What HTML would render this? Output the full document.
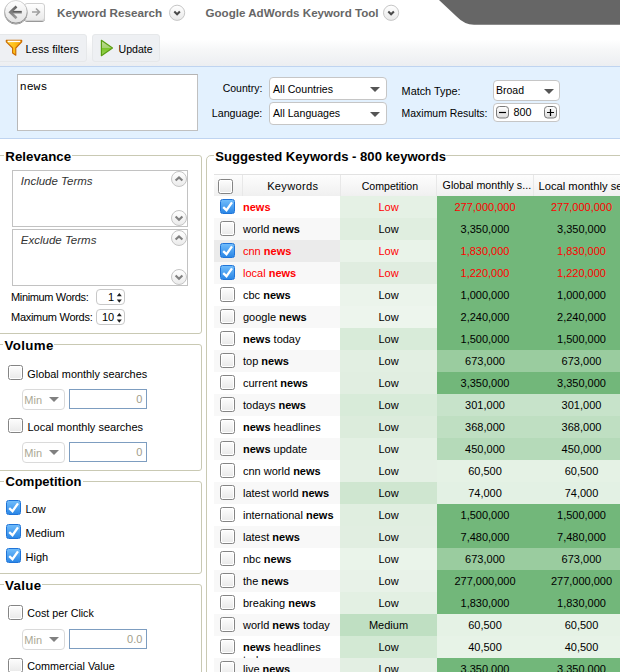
<!DOCTYPE html>
<html><head><meta charset="utf-8">
<style>
*{box-sizing:border-box;margin:0;padding:0}
html,body{width:620px;height:672px;overflow:hidden;background:#fff;font-family:"Liberation Sans",sans-serif;font-size:11px;color:#000;position:relative}
.a{position:absolute}
.tri{position:absolute;width:0;height:0;border-left:5px solid transparent;border-right:5px solid transparent;border-top:5px solid #555}
.fs{position:absolute;border:1px solid #c9c9b3;border-radius:3px}
.lgb{position:absolute;background:#fff;height:14px}
.chk{position:absolute;width:15px;height:15px;border:1px solid #848484;border-radius:2.5px;background:linear-gradient(#fdfdfd,#e9e9e9);box-shadow:inset 0 0 0 1px #fff}
.chk.on{border:1px solid #1f74d8;background:linear-gradient(#70bcfb,#2b87e6);box-shadow:none}
.chk svg{position:absolute;left:-1px;top:-1px}
.r{position:absolute;left:214px;width:420px;height:22px;white-space:nowrap}
.r>span{position:absolute;top:0;height:22px;line-height:22px}
.r .chk{left:6px;top:3px;height:15px;line-height:15px}
.kw{left:29px}
.c2{left:126px;width:97px;text-align:center}
.c3{left:223px;width:96px;text-align:center}
.c4{left:319px;width:97px;text-align:center}
.circ{position:absolute;width:16px;height:16px;border-radius:50%;border:1px solid #c4c4c4;background:linear-gradient(#fff,#ebebeb)}
.spin{position:absolute;left:96px;width:29px;height:17px;border:1px solid #c8c8c8;border-radius:4px;background:#fff}
.minsel{position:absolute;left:22px;width:43px;height:20px;border:1px solid #dadada;border-radius:4px;background:#fff}
.inp{position:absolute;left:69px;width:78px;height:19px;border:1px solid #7f9db9;background:#fff}
.sel{position:absolute;border:1px solid #c6c6c6;border-radius:4px;background:#fff}
</style></head><body>

<svg class="a" style="left:0;top:0" width="620" height="66">
  <defs>
   <linearGradient id="g1" x1="0" y1="0" x2="0" y2="1"><stop offset="0" stop-color="#ffffff"/><stop offset="1" stop-color="#e2e2e2"/></linearGradient>
   <linearGradient id="gs" x1="0" y1="0" x2="0" y2="1"><stop offset="0" stop-color="#d6d6d6"/><stop offset="1" stop-color="#8a8a8a"/></linearGradient>
   <linearGradient id="g2" x1="0" y1="0" x2="0" y2="1"><stop offset="0" stop-color="#ffffff"/><stop offset="1" stop-color="#e9e9e9"/></linearGradient>
   <linearGradient id="ga" x1="0" y1="0" x2="0" y2="1"><stop offset="0" stop-color="#4a4a4a"/><stop offset="1" stop-color="#9a9a9a"/></linearGradient>
   <linearGradient id="gf" x1="0" y1="0" x2="1" y2="0"><stop offset="0" stop-color="#ffd23a"/><stop offset="0.5" stop-color="#ffc21a"/><stop offset="1" stop-color="#f59a00"/></linearGradient>
   <linearGradient id="gp" x1="0" y1="0" x2="0" y2="1"><stop offset="0" stop-color="#c4df9a"/><stop offset="0.5" stop-color="#a6d070"/><stop offset="0.52" stop-color="#7cc42a"/><stop offset="1" stop-color="#9ad45a"/></linearGradient>
   <filter id="sh" x="-20%" y="-20%" width="140%" height="150%"><feGaussianBlur in="SourceAlpha" stdDeviation="0.7"/><feOffset dy="1"/><feComponentTransfer><feFuncA type="linear" slope="0.4"/></feComponentTransfer><feMerge><feMergeNode/><feMergeNode in="SourceGraphic"/></feMerge></filter>
  </defs>
  <path d="M439 0 L456 16 Q464.5 24.8 474 24.8 L620 24.8 L620 0 Z" fill="#666"/>
  <rect x="24.5" y="3.5" width="20" height="17" rx="2.5" fill="url(#g2)" stroke="#d0d0d0" filter="url(#sh)"/>
  <path d="M32 12 H39.5 M36 8.5 L39.5 12 L36 15.5" stroke="#a0a0a0" stroke-width="1.6" fill="none"/>
  <circle cx="15.9" cy="11.8" r="11.3" fill="url(#g1)" stroke="url(#gs)" filter="url(#sh)"/>
  <rect x="11.5" y="10.9" width="10.3" height="2.7" fill="url(#ga)"/>
  <linearGradient id="gar" gradientUnits="userSpaceOnUse" x1="0" y1="6" x2="0" y2="19"><stop offset="0" stop-color="#606060"/><stop offset="1" stop-color="#a0a0a0"/></linearGradient><path d="M16.5 6.5 L10.3 12.3 L16.5 18.2" stroke="url(#gar)" stroke-width="2.6" fill="none"/>
  <circle cx="177.1" cy="12.8" r="7.6" fill="url(#g2)" stroke="#c6c6c6"/>
  <path d="M174.3 11.5 L177.1 14.3 L179.9 11.5" stroke="#4a4a4a" stroke-width="2" fill="none"/>
  <circle cx="391.1" cy="12.8" r="7.6" fill="url(#g2)" stroke="#c6c6c6"/>
  <path d="M388.3 11.5 L391.1 14.3 L393.9 11.5" stroke="#4a4a4a" stroke-width="2" fill="none"/>
</svg>
<div style="position:absolute;top:5.25px;font-size:11.7px;line-height:15px;white-space:nowrap;font-weight:bold;color:#666;left:57px;">Keyword Research</div>
<div style="position:absolute;top:5.78px;font-size:11.6px;line-height:14px;white-space:nowrap;font-weight:bold;color:#666;left:205.5px;">Google AdWords Keyword Tool</div>
<div class="a" style="left:0;top:25px;width:620px;height:41px;background:linear-gradient(#fff 0%,#fff 35%,#f6f7f8 60%,#eceef1 100%)"></div>
<div class="a" style="left:-3px;top:34px;width:89.7px;height:27.5px;border:1px solid #e6e8ea;border-radius:3px;background:#eef0f3"></div>
<div class="a" style="left:92px;top:34px;width:68px;height:27.5px;border:1px solid #e6e8ea;border-radius:3px;background:#eef0f3"></div>
<svg class="a" style="left:0;top:34px" width="30" height="28"><path d="M6.3 6.3 H21.7 V7.8 L15.8 14 V21.3 L12.6 19 V14 L6.3 7.8 Z" fill="url(#gf)" stroke="#c86a00" stroke-width="1.1" stroke-linejoin="round"/><path d="M7.8 7.4 H20.2" stroke="#fff" stroke-width="1.4"/></svg>
<svg class="a" style="left:90px;top:34px" width="30" height="28"><path d="M11.4 6.3 L22.5 14 L11.4 21.7 Z" fill="url(#gp)" stroke="#5a9e12" stroke-width="1.2" stroke-linejoin="round"/></svg>
<div style="position:absolute;top:41.92px;font-size:11.2px;line-height:14px;white-space:nowrap;left:25.5px;">Less filters</div>
<div style="position:absolute;top:42.63px;font-size:10.6px;line-height:13px;white-space:nowrap;left:118.5px;">Update</div>
<div class="a" style="left:-5px;top:66px;width:630px;height:73px;background:#e3f1fe;border:1px solid #bfd4f0;border-radius:0 0 0 5px"></div>
<div class="a" style="left:17px;top:74px;width:181px;height:57px;background:#fff;border:1px solid #c0c0c0;border-top-color:#b4b4b4;border-left-color:#b8b8b8"></div>
<div style="position:absolute;top:79.62px;font-size:11.5px;line-height:14px;white-space:nowrap;font-family:'Liberation Mono',monospace;left:19.8px;">news</div>
<div style="position:absolute;top:82.46px;font-size:10.5px;line-height:13px;white-space:nowrap;right:357.7px;text-align:right;">Country:</div>
<div style="position:absolute;top:107.19px;font-size:10.7px;line-height:13px;white-space:nowrap;right:357.7px;text-align:right;">Language:</div>
<div class="sel" style="left:269px;top:77px;width:118px;height:23px"><span class="tri" style="left:100px;top:9px"></span></div>
<div class="sel" style="left:269px;top:102px;width:118px;height:23px"><span class="tri" style="left:100px;top:9px"></span></div>
<div style="position:absolute;top:82.73px;font-size:10.6px;line-height:13px;white-space:nowrap;left:273px;">All Countries</div>
<div style="position:absolute;top:107.43px;font-size:10.6px;line-height:13px;white-space:nowrap;left:273px;">All Languages</div>
<div style="position:absolute;top:84.14px;font-size:10.85px;line-height:14px;white-space:nowrap;left:401.6px;">Match Type:</div>
<div style="position:absolute;top:106.58px;font-size:10.45px;line-height:13px;white-space:nowrap;left:401.6px;">Maximum Results:</div>
<div class="sel" style="left:493px;top:80px;width:67px;height:21px"><span class="tri" style="left:50px;top:8px"></span></div>
<div style="position:absolute;top:84.46px;font-size:10.5px;line-height:13px;white-space:nowrap;left:496px;">Broad</div>
<div class="sel" style="left:493px;top:102.5px;width:67px;height:19px"></div>
<svg class="a" style="left:490px;top:100px" width="75" height="25">
<defs><linearGradient id="gb" x1="0" y1="0" x2="0" y2="1"><stop offset="0" stop-color="#fff"/><stop offset="1" stop-color="#dcdcdc"/></linearGradient></defs>
<rect x="6.5" y="6.5" width="12" height="11.5" rx="3" fill="url(#gb)" stroke="#7a7a7a"/><path d="M9 12.5 H16" stroke="#000" stroke-width="1.2"/>
<rect x="54.5" y="6.5" width="12" height="11.5" rx="3" fill="url(#gb)" stroke="#7a7a7a"/><path d="M57 12.5 H64 M60.5 9 V16" stroke="#000" stroke-width="1.2"/>
</svg>
<div style="position:absolute;top:104.56px;font-size:10.8px;line-height:14px;white-space:nowrap;left:513.6px;">800</div>
<div class="fs" style="left:-5px;top:155px;width:207px;height:179px"></div>
<div class="lgb" style="left:3.8px;top:149px;width:68.5px"></div><div style="position:absolute;top:147.89px;font-size:13.3px;line-height:17px;white-space:nowrap;font-weight:bold;left:5.3px;">Relevance</div>
<div class="a" style="left:12px;top:170px;width:176px;height:57px;border:1px solid #c2c2c2;background:#fff"></div>
<div style="position:absolute;top:173.72px;font-size:11.5px;line-height:14px;white-space:nowrap;font-style:italic;color:#333;left:20.8px;">Include Terms</div>
<div class="circ" style="left:171px;top:171px"><svg width="16" height="16" style="position:absolute;left:-1px;top:-1px"><path d="M4.6 9.6 L8 6.4 L11.4 9.6" stroke="#808080" stroke-width="2.1" fill="none"/></svg></div>
<div class="circ" style="left:171px;top:210px"><svg width="16" height="16" style="position:absolute;left:-1px;top:-1px"><path d="M4.6 6.6 L8 9.8 L11.4 6.6" stroke="#808080" stroke-width="2.1" fill="none"/></svg></div>
<div class="a" style="left:12px;top:229px;width:176px;height:57px;border:1px solid #c2c2c2;background:#fff"></div>
<div style="position:absolute;top:232.72px;font-size:11.5px;line-height:14px;white-space:nowrap;font-style:italic;color:#333;left:20.8px;">Exclude Terms</div>
<div class="circ" style="left:171px;top:230px"><svg width="16" height="16" style="position:absolute;left:-1px;top:-1px"><path d="M4.6 9.6 L8 6.4 L11.4 9.6" stroke="#808080" stroke-width="2.1" fill="none"/></svg></div>
<div class="circ" style="left:171px;top:269px"><svg width="16" height="16" style="position:absolute;left:-1px;top:-1px"><path d="M4.6 6.6 L8 9.8 L11.4 6.6" stroke="#808080" stroke-width="2.1" fill="none"/></svg></div>
<div style="position:absolute;top:289.99px;font-size:11px;line-height:14px;white-space:nowrap;letter-spacing:-0.35px;left:11px;">Minimum Words:</div>
<div style="position:absolute;top:309.89px;font-size:11px;line-height:14px;white-space:nowrap;letter-spacing:-0.28px;left:11px;">Maximum Words:</div>
<div class="spin" style="top:289.2px;height:16px"><svg width="8" height="14" style="position:absolute;left:18.5px;top:1px"><path d="M0.8 5.2 L3.3 2 L5.8 5.2Z M0.8 8.6 L3.3 11.8 L5.8 8.6Z" fill="#222"/></svg></div>
<div style="position:absolute;top:289.99px;font-size:11px;line-height:14px;white-space:nowrap;left:108px;">1</div>
<div class="spin" style="top:309.2px;height:16px"><svg width="8" height="14" style="position:absolute;left:18.5px;top:1px"><path d="M0.8 5.2 L3.3 2 L5.8 5.2Z M0.8 8.6 L3.3 11.8 L5.8 8.6Z" fill="#222"/></svg></div>
<div style="position:absolute;top:309.89px;font-size:11px;line-height:14px;white-space:nowrap;left:102px;">10</div>
<div class="fs" style="left:-5px;top:344px;width:207px;height:127px"></div>
<div class="lgb" style="left:3.0999999999999996px;top:338.3px;width:51.4px"></div><div style="position:absolute;top:337.19px;font-size:13.3px;line-height:17px;white-space:nowrap;font-weight:bold;letter-spacing:0.35px;left:4.6px;">Volume</div>
<div class="chk" style="left:8px;top:365px"></div>
<div style="position:absolute;top:367.22px;font-size:10.9px;line-height:14px;white-space:nowrap;left:27.3px;">Global monthly searches</div>
<div class="minsel" style="top:389px;height:21px"><span class="tri" style="left:25.5px;top:6.5px;border-top-color:#808080;border-left-width:5.5px;border-right-width:5.5px;border-top-width:5.5px"></span></div><div style="position:absolute;top:392.89px;font-size:11px;line-height:14px;white-space:nowrap;color:#aaa794;left:24.3px;">Min</div><div class="inp" style="top:389px;height:20px;border-color:#7d9dc0"></div><div style="position:absolute;top:391.59px;font-size:11px;line-height:14px;white-space:nowrap;color:#a19d8a;right:477.7px;text-align:right;">0</div>
<div class="chk" style="left:8px;top:418px"></div>
<div style="position:absolute;top:420.19px;font-size:11px;line-height:14px;white-space:nowrap;left:27.5px;">Local monthly searches</div>
<div class="minsel" style="top:442px;height:21px"><span class="tri" style="left:25.5px;top:6.5px;border-top-color:#808080;border-left-width:5.5px;border-right-width:5.5px;border-top-width:5.5px"></span></div><div style="position:absolute;top:445.89px;font-size:11px;line-height:14px;white-space:nowrap;color:#aaa794;left:24.3px;">Min</div><div class="inp" style="top:442px;height:20px;border-color:#7d9dc0"></div><div style="position:absolute;top:444.59px;font-size:11px;line-height:14px;white-space:nowrap;color:#a19d8a;right:477.7px;text-align:right;">0</div>
<div class="fs" style="left:-5px;top:481px;width:207px;height:93px"></div>
<div class="lgb" style="left:4.0px;top:474.3px;width:78.5px"></div><div style="position:absolute;top:473.80px;font-size:13px;line-height:16px;white-space:nowrap;font-weight:bold;left:5.5px;">Competition</div>
<div class="chk on" style="left:6px;top:500px"><svg width="15" height="15"><path d="M3.2 8.1 L6.5 11.2 L12 3.4" stroke="#fff" stroke-width="2.3" fill="none" stroke-linejoin="miter"/></svg></div>
<div style="position:absolute;top:501.99px;font-size:11px;line-height:14px;white-space:nowrap;left:25.6px;">Low</div>
<div class="chk on" style="left:6px;top:524px"><svg width="15" height="15"><path d="M3.2 8.1 L6.5 11.2 L12 3.4" stroke="#fff" stroke-width="2.3" fill="none" stroke-linejoin="miter"/></svg></div>
<div style="position:absolute;top:525.99px;font-size:11px;line-height:14px;white-space:nowrap;left:25.6px;">Medium</div>
<div class="chk on" style="left:6px;top:548px"><svg width="15" height="15"><path d="M3.2 8.1 L6.5 11.2 L12 3.4" stroke="#fff" stroke-width="2.3" fill="none" stroke-linejoin="miter"/></svg></div>
<div style="position:absolute;top:549.99px;font-size:11px;line-height:14px;white-space:nowrap;left:25.6px;">High</div>
<div class="fs" style="left:-5px;top:584px;width:207px;height:117px"></div>
<div class="lgb" style="left:3.5999999999999996px;top:578.4px;width:38.8px"></div><div style="position:absolute;top:577.29px;font-size:13.3px;line-height:17px;white-space:nowrap;font-weight:bold;letter-spacing:0.35px;left:5.1px;">Value</div>
<div class="chk" style="left:8px;top:605px"></div>
<div style="position:absolute;top:607.49px;font-size:10.7px;line-height:13px;white-space:nowrap;left:27.3px;">Cost per Click</div>
<div class="minsel" style="top:629px;height:21px"><span class="tri" style="left:25.5px;top:6.5px;border-top-color:#808080;border-left-width:5.5px;border-right-width:5.5px;border-top-width:5.5px"></span></div><div style="position:absolute;top:632.89px;font-size:11px;line-height:14px;white-space:nowrap;color:#aaa794;left:24.3px;">Min</div><div class="inp" style="top:629px;height:20px;border-color:#7d9dc0"></div><div style="position:absolute;top:631.59px;font-size:11px;line-height:14px;white-space:nowrap;color:#a19d8a;right:477.7px;text-align:right;">0.0</div>
<div class="chk" style="left:8px;top:658px"></div>
<div style="position:absolute;top:659.26px;font-size:10.8px;line-height:14px;white-space:nowrap;left:27.3px;">Commercial Value</div>
<div class="fs" style="left:206px;top:155px;width:430px;height:540px;border-radius:5px"></div>
<div class="lgb" style="left:213.8px;top:149.3px;width:232px"></div><div style="position:absolute;top:148.76px;font-size:13.1px;line-height:16px;white-space:nowrap;font-weight:bold;left:215.3px;">Suggested Keywords - 800 keywords</div>
<div class="a" style="left:214px;top:174px;width:420px;height:22px;border-top:1px solid #e2e2e2;background:linear-gradient(#fdfdfd,#f0f0f0)"></div>
<div class="a" style="left:242px;top:175px;width:1px;height:21px;background:#e8e8e8"></div>
<div class="a" style="left:340px;top:175px;width:1px;height:21px;background:#e8e8e8"></div>
<div class="a" style="left:436px;top:175px;width:1px;height:21px;background:#e8e8e8"></div>
<div class="a" style="left:533px;top:175px;width:1px;height:21px;background:#e8e8e8"></div>
<div class="chk" style="left:218px;top:179px"></div>
<div style="position:absolute;top:178.95px;font-size:11.1px;line-height:14px;white-space:nowrap;letter-spacing:0.3px;left:192.7px;width:200px;text-align:center;">Keywords</div>
<div style="position:absolute;top:179.53px;font-size:10.6px;line-height:13px;white-space:nowrap;left:289.9px;width:200px;text-align:center;">Competition</div>
<div style="position:absolute;top:179.49px;font-size:10.7px;line-height:13px;white-space:nowrap;left:442.6px;">Global monthly s...</div>
<div style="position:absolute;top:178.82px;font-size:11.2px;line-height:14px;white-space:nowrap;left:538.5px;">Local monthly searches</div>
<div class="r" style="top:196px;background:#fff;color:#f00"><span class="chk on"><svg width="15" height="15"><path d="M3.2 8.1 L6.5 11.2 L12 3.4" stroke="#fff" stroke-width="2.3" fill="none" stroke-linejoin="miter"/></svg></span><span class="kw"><b>news</b></span><span class="c2" style="background:#e5f1e5">Low</span><span class="c3" style="background:#72b77a">277,000,000</span><span class="c4" style="background:#72b77a">277,000,000</span></div>
<div class="r" style="top:218px;background:#f8f8f8;color:#000"><span class="chk"></span><span class="kw">world <b>news</b></span><span class="c2" style="background:#e0eee0">Low</span><span class="c3" style="background:#72b77a">3,350,000</span><span class="c4" style="background:#72b77a">3,350,000</span></div>
<div class="r" style="top:240px;background:#ebebeb;color:#f00"><span class="chk on"><svg width="15" height="15"><path d="M3.2 8.1 L6.5 11.2 L12 3.4" stroke="#fff" stroke-width="2.3" fill="none" stroke-linejoin="miter"/></svg></span><span class="kw">cnn <b>news</b></span><span class="c2" style="background:#e9f3e9">Low</span><span class="c3" style="background:#72b77a">1,830,000</span><span class="c4" style="background:#72b77a">1,830,000</span></div>
<div class="r" style="top:262px;background:#f8f8f8;color:#f00"><span class="chk on"><svg width="15" height="15"><path d="M3.2 8.1 L6.5 11.2 L12 3.4" stroke="#fff" stroke-width="2.3" fill="none" stroke-linejoin="miter"/></svg></span><span class="kw">local <b>news</b></span><span class="c2" style="background:#e0ede0">Low</span><span class="c3" style="background:#72b77a">1,220,000</span><span class="c4" style="background:#72b77a">1,220,000</span></div>
<div class="r" style="top:284px;background:#fff;color:#000"><span class="chk"></span><span class="kw">cbc <b>news</b></span><span class="c2" style="background:#ebf4eb">Low</span><span class="c3" style="background:#72b77a">1,000,000</span><span class="c4" style="background:#72b77a">1,000,000</span></div>
<div class="r" style="top:306px;background:#f8f8f8;color:#000"><span class="chk"></span><span class="kw">google <b>news</b></span><span class="c2" style="background:#edf5ed">Low</span><span class="c3" style="background:#72b77a">2,240,000</span><span class="c4" style="background:#72b77a">2,240,000</span></div>
<div class="r" style="top:328px;background:#fff;color:#000"><span class="chk"></span><span class="kw"><b>news</b> today</span><span class="c2" style="background:#d8ebd9">Low</span><span class="c3" style="background:#72b77a">1,500,000</span><span class="c4" style="background:#72b77a">1,500,000</span></div>
<div class="r" style="top:350px;background:#f8f8f8;color:#000"><span class="chk"></span><span class="kw">top <b>news</b></span><span class="c2" style="background:#e2efe2">Low</span><span class="c3" style="background:#9acc9f">673,000</span><span class="c4" style="background:#9acc9f">673,000</span></div>
<div class="r" style="top:372px;background:#fff;color:#000"><span class="chk"></span><span class="kw">current <b>news</b></span><span class="c2" style="background:#e1eee1">Low</span><span class="c3" style="background:#72b77a">3,350,000</span><span class="c4" style="background:#72b77a">3,350,000</span></div>
<div class="r" style="top:394px;background:#f8f8f8;color:#000"><span class="chk"></span><span class="kw">todays <b>news</b></span><span class="c2" style="background:#d8ebd9">Low</span><span class="c3" style="background:#c7e3ca">301,000</span><span class="c4" style="background:#c7e3ca">301,000</span></div>
<div class="r" style="top:416px;background:#fff;color:#000"><span class="chk"></span><span class="kw"><b>news</b> headlines</span><span class="c2" style="background:#dcecdc">Low</span><span class="c3" style="background:#bfdfc2">368,000</span><span class="c4" style="background:#bfdfc2">368,000</span></div>
<div class="r" style="top:438px;background:#f8f8f8;color:#000"><span class="chk"></span><span class="kw"><b>news</b> update</span><span class="c2" style="background:#e3f0e3">Low</span><span class="c3" style="background:#b5dab9">450,000</span><span class="c4" style="background:#b5dab9">450,000</span></div>
<div class="r" style="top:460px;background:#fff;color:#000"><span class="chk"></span><span class="kw">cnn world <b>news</b></span><span class="c2" style="background:#e4f0e4">Low</span><span class="c3" style="background:#e5f2e5">60,500</span><span class="c4" style="background:#e5f2e5">60,500</span></div>
<div class="r" style="top:482px;background:#f8f8f8;color:#000"><span class="chk"></span><span class="kw">latest world <b>news</b></span><span class="c2" style="background:#cfe6d0">Low</span><span class="c3" style="background:#e3f1e4">74,000</span><span class="c4" style="background:#e3f1e4">74,000</span></div>
<div class="r" style="top:504px;background:#fff;color:#000"><span class="chk"></span><span class="kw">international <b>news</b></span><span class="c2" style="background:#e0eee0">Low</span><span class="c3" style="background:#72b77a">1,500,000</span><span class="c4" style="background:#72b77a">1,500,000</span></div>
<div class="r" style="top:526px;background:#f8f8f8;color:#000"><span class="chk"></span><span class="kw">latest <b>news</b></span><span class="c2" style="background:#e1eee1">Low</span><span class="c3" style="background:#72b77a">7,480,000</span><span class="c4" style="background:#72b77a">7,480,000</span></div>
<div class="r" style="top:548px;background:#fff;color:#000"><span class="chk"></span><span class="kw">nbc <b>news</b></span><span class="c2" style="background:#eaf4ea">Low</span><span class="c3" style="background:#9acc9f">673,000</span><span class="c4" style="background:#9acc9f">673,000</span></div>
<div class="r" style="top:570px;background:#f8f8f8;color:#000"><span class="chk"></span><span class="kw">the <b>news</b></span><span class="c2" style="background:#e8f2e8">Low</span><span class="c3" style="background:#72b77a">277,000,000</span><span class="c4" style="background:#72b77a">277,000,000</span></div>
<div class="r" style="top:592px;background:#fff;color:#000"><span class="chk"></span><span class="kw">breaking <b>news</b></span><span class="c2" style="background:#e3f0e3">Low</span><span class="c3" style="background:#72b77a">1,830,000</span><span class="c4" style="background:#72b77a">1,830,000</span></div>
<div class="r" style="top:614px;background:#f8f8f8;color:#000"><span class="chk"></span><span class="kw">world <b>news</b> today</span><span class="c2" style="background:#bfdfc2">Medium</span><span class="c3" style="background:#e5f2e5">60,500</span><span class="c4" style="background:#e5f2e5">60,500</span></div>
<div class="r" style="top:636px;background:#fff;color:#000"><span class="chk"></span><span class="kw"><b>news</b> headlines</span><span class="c2" style="background:#d3e9d4">Low</span><span class="c3" style="background:#e7f3e7">40,500</span><span class="c4" style="background:#e7f3e7">40,500</span></div>
<div class="r" style="top:658px;background:#f8f8f8;color:#000"><span class="chk"></span><span class="kw">live <b>news</b></span><span class="c2" style="background:#e3efe3">Low</span><span class="c3" style="background:#72b77a">3,350,000</span><span class="c4" style="background:#72b77a">3,350,000</span></div>
<div style="position:absolute;left:243px;top:636px;width:60px;height:22px;overflow:hidden"><div style="position:absolute;top:16.69px;font-size:11px;line-height:14px;white-space:nowrap;left:0px;">today</div></div>
</body></html>
